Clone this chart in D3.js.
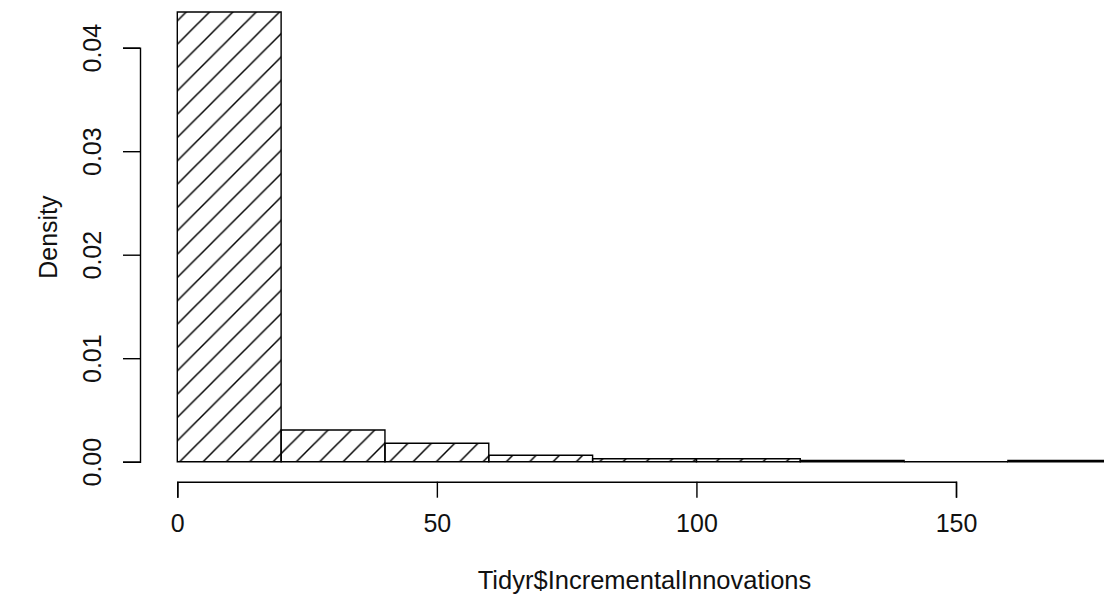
<!DOCTYPE html>
<html>
<head>
<meta charset="utf-8">
<script src="https://cdn.jsdelivr.net/npm/d3@7"></script>
<style>
  body { margin: 0; background: #fff; }
  text { font-family: "Liberation Sans", Arial, sans-serif; fill: #111; }
</style>
</head>
<body>
<script>
// histogram bins (left edges, width 20) and their densities
var binStarts = [0, 20, 40, 60, 80, 100, 120, 140, 160]
var binWidth = 20
var densities = [0.04345, 0.00306, 0.00178, 0.00063, 0.00029, 0.00029, 0.00013, 0, 0.00013]
var xTicks = [0, 50, 100, 150]
var yTicks = [0, 0.01, 0.02, 0.03, 0.04]
var xLabel = 'Tidyr$IncrementalInnovations'
var yLabel = 'Density'

var initialize = function(){
  var screen = { width: 1104, height: 615 }
  var fontSize = 25

  var svg = d3.select('body')
              .append('svg')
              .attr('width', screen.width)
              .attr('height', screen.height)

  var xScale = d3.scaleLinear()
                 .domain([0, 150])
                 .range([177.3, 956])
  var yScale = d3.scaleLinear()
                 .domain([0, 0.04])
                 .range([461.7, 47.7])

  // hatching like R's density/angle fill
  var s = 23.33
  svg.append('defs')
     .append('pattern')
     .attr('id', 'hatch')
     .attr('patternUnits', 'userSpaceOnUse')
     .attr('x', 11.5)
     .attr('y', 0)
     .attr('width', s)
     .attr('height', s)
     .append('path')
     .attr('d', 'M0,' + s + 'L' + s + ',0M-2,2L2,-2M' + (s - 2) + ',' + (s + 2) + 'L' + (s + 2) + ',' + (s - 2))
     .attr('stroke', '#000')
     .attr('stroke-width', 1.5)

  // bars as paths so an empty bin still shows its outline
  var bars = svg.append('g')
                .selectAll('path')
                .data(densities)
                .enter()
                .append('path')
                .attr('d', function(d, i){
                  var x0 = xScale(binStarts[i]), x1 = xScale(binStarts[i] + binWidth)
                  var y0 = yScale(0), y1 = yScale(d)
                  return 'M' + x0 + ',' + y0 + 'H' + x1 + 'V' + y1 + 'H' + x0 + 'Z'
                })
                .attr('fill', 'url(#hatch)')
                .attr('stroke', '#000')
                .attr('stroke-width', 1.4)

  // x axis
  var xAxis = d3.axisBottom(xScale)
                .tickValues(xTicks)
                .tickSizeOuter(0)
                .tickSize(16)
                .tickPadding(16.5)
  var gx = svg.append('g')
              .attr('transform', 'translate(0,481.7)')
              .call(xAxis)
  gx.select('.domain').attr('stroke', '#000').attr('stroke-width', 1.4)
  gx.selectAll('.tick line').attr('stroke', '#000').attr('stroke-width', 1.4)
  gx.selectAll('.tick text')
    .attr('font-size', fontSize)
    .attr('font-family', '"Liberation Sans", Arial, sans-serif')
    .attr('fill', '#111')

  // y axis with rotated labels
  var yAxis = d3.axisLeft(yScale)
                .tickValues(yTicks)
                .tickSizeOuter(0)
                .tickSize(17)
                .tickFormat(d3.format('.2f'))
  var gy = svg.append('g')
              .attr('transform', 'translate(140,0)')
              .call(yAxis)
  gy.select('.domain').attr('stroke', '#000').attr('stroke-width', 1.4)
  gy.selectAll('.tick line').attr('stroke', '#000').attr('stroke-width', 1.4)
  gy.selectAll('.tick text')
    .attr('font-size', fontSize)
    .attr('font-family', '"Liberation Sans", Arial, sans-serif')
    .attr('fill', '#111')
    .attr('text-anchor', 'middle')
    .attr('transform', 'rotate(-90)')
    .attr('x', 0)
    .attr('y', -39.5)
    .attr('dy', 0)

  // axis titles
  svg.append('text')
     .attr('x', xScale(90))
     .attr('y', 589)
     .attr('text-anchor', 'middle')
     .attr('font-size', fontSize + 0.5)
     .text(xLabel)

  svg.append('text')
     .attr('transform', 'translate(57,' + yScale(0.0217) + ') rotate(-90)')
     .attr('text-anchor', 'middle')
     .attr('font-size', fontSize)
     .text(yLabel)
}

initialize();
</script>
</body>
</html>
